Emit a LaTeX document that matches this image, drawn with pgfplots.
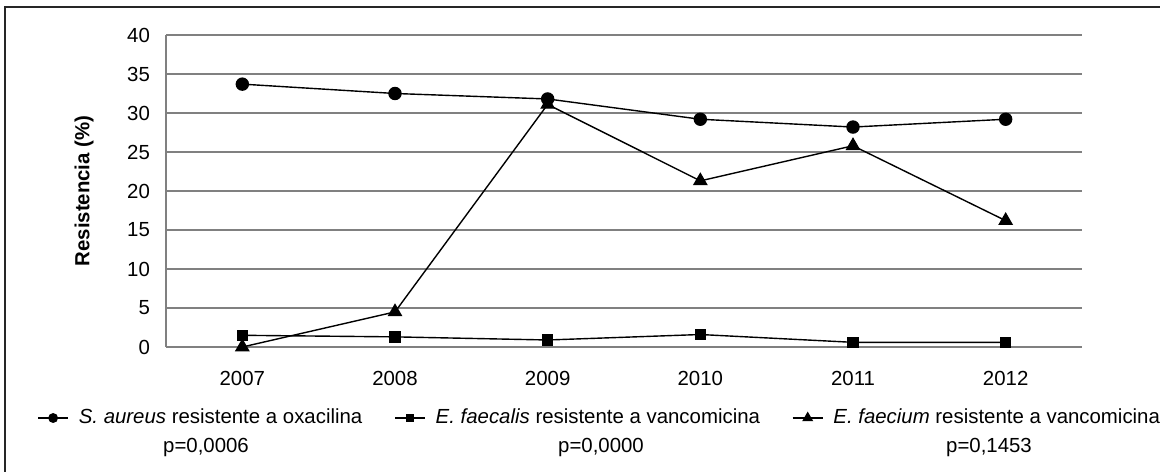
\documentclass[border=0pt]{standalone}
\usepackage{fontspec}
\setmainfont{Liberation Sans}
\usepackage{pgfplots}
\pgfplotsset{compat=1.18}
\definecolor{gridc}{RGB}{128,128,128}
\newcommand{\fs}{\fontsize{10.2}{12}\selectfont}
\begin{document}
\begin{tikzpicture}
\useasboundingbox (0pt,0pt) rectangle (580pt,-235.5pt);
\draw[line width=0.75pt, black!85] (2.5pt,-3.5pt) rectangle (583pt,-240pt);
\begin{axis}[
  at={(83pt,-173.5pt)}, anchor=south west,
  scale only axis, width=458pt, height=156pt,
  xmin=-0.5, xmax=5.5, ymin=0, ymax=40,
  xtick={0,1,2,3,4,5}, xticklabels={2007,2008,2009,2010,2011,2012},
  ytick={0,5,...,40},
  axis lines*=left,
  axis line style={gridc, line width=1.1pt},
  ymajorgrids, grid style={gridc, line width=1.1pt},
  major tick length=0pt,
  /pgf/number format/assume math mode=true,
  tick label style={font=\fs},
  yticklabel style={xshift=-4.5pt},
  xticklabel style={yshift=-8.5pt},
  ylabel={\textbf{Resistencia (\%)}},
  every axis y label/.style={at={(axis description cs:0,0.5)}, rotate=90, anchor=center, yshift=41pt, font=\fs},
  legend columns=3,
  legend style={at={(axis description cs:-0.1408,-0.2276)}, anchor=west, draw=none, fill=none,
    inner sep=0pt, font=\fs,
    nodes={inner sep=0pt},
    /tikz/every odd column/.append style={column sep=5pt},
    /tikz/every even column/.append style={column sep=16pt}},
  legend image code/.code={\draw[mark repeat=2,mark phase=2, every mark/.append style={scale=0.7}] plot coordinates {(0pt,0pt)(7.5pt,0pt)(15pt,0pt)};},
]
\addplot[black, line width=0.7pt, mark=*, mark size=3pt, mark options={solid}] coordinates {
(0,33.7) (1,32.5) (2,31.8) (3,29.2) (4,28.2) (5,29.2)};
\addlegendentry{\textit{S. aureus} resistente a oxacilina}
\addplot[black, line width=0.7pt, mark=square*, mark size=2.5pt] coordinates {
(0,1.5) (1,1.3) (2,0.9) (3,1.6) (4,0.6) (5,0.6)};
\addlegendentry{\textit{E. faecalis} resistente a vancomicina}
\addplot[black, line width=0.7pt, mark=triangle*, mark size=3.6pt] coordinates {
(0,0) (1,4.5) (2,31.1) (3,21.3) (4,25.8) (5,16.2)};
\addlegendentry{\textit{E. faecium} resistente a vancomicina}
\end{axis}
\node[font=\fs] at (103pt,-223.5pt) {p=0,0006};
\node[font=\fs] at (300.5pt,-223.5pt) {p=0,0000};
\node[font=\fs] at (494.5pt,-223.5pt) {p=0,1453};
\end{tikzpicture}
\end{document}
